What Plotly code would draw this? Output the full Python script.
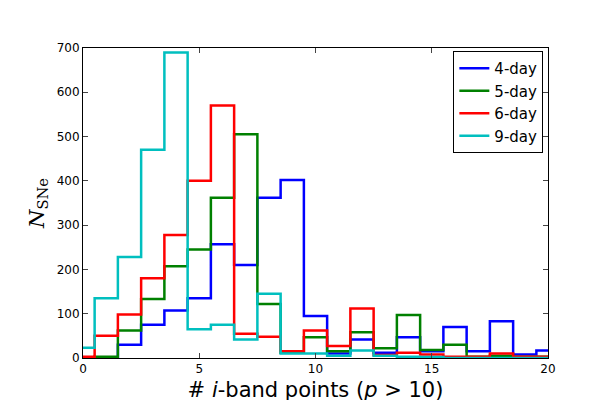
import plotly.graph_objects as go

x = list(range(21))
d4 = [0,0,30,75,107,135,257,210,362,402,95,10,42,12,47,15,70,15,83,8,17]
d5 = [0,3,62,133,207,245,362,505,122,12,47,15,58,22,97,18,30,3,5,3,3]
d6 = [3,50,98,180,278,400,570,55,48,15,62,27,112,7,12,8,3,3,10,3,3]
d9 = [23,135,228,470,690,65,75,42,145,10,10,5,17,5,3,2,0,0,0,0,0]
names = ["4-day","5-day","6-day","9-day"]
colors = ["#0000ff","#008000","#ff0000","#00bfbf"]

fig = go.Figure()
for n, c, y in zip(names, colors, [d4,d5,d6,d9]):
    fig.add_trace(go.Scatter(x=x, y=y, name=n, mode="lines",
                             line=dict(color=c, width=2.5, shape="hvh")))

ax = dict(showgrid=False, zeroline=False, mirror="ticks", ticks="inside",
          showline=True, linecolor="black", linewidth=1, ticklen=5,
          automargin=False, tickfont=dict(size=12, color="black"))
fig.update_layout(
    width=600, height=400, plot_bgcolor="white", paper_bgcolor="white",
    margin=dict(l=75, r=60, t=40, b=50),
    font=dict(family="DejaVu Sans", color="black"),
    xaxis=dict(range=[0,20], dtick=5, title=dict(text="# <i>i</i>-band points (<i>p</i> > 10)",
               font=dict(size=21), standoff=6), **ax),
    yaxis=dict(range=[0,700], dtick=100, title=dict(text="<i>N</i><sub>SNe</sub>",
               font=dict(size=21, family="DejaVu Serif"), standoff=6), **ax),
    legend=dict(x=0.99, y=0.99, xanchor="right", yanchor="top",
                bordercolor="black", borderwidth=1, bgcolor="white",
                font=dict(size=15), tracegroupgap=0),
)
fig.write_html("out.html")
